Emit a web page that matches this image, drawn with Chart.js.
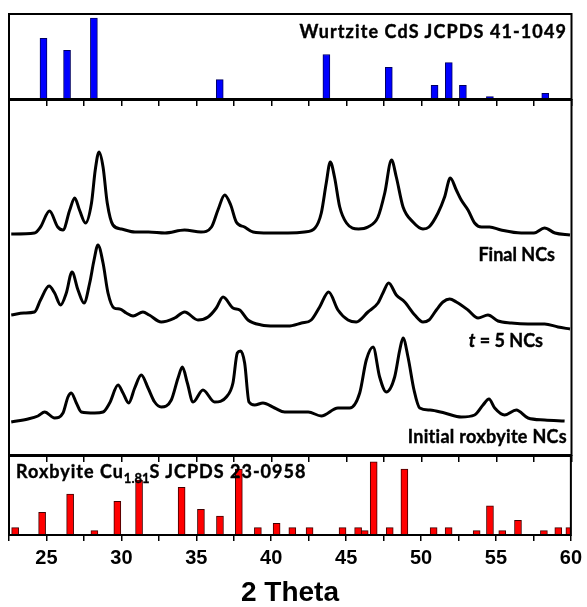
<!DOCTYPE html>
<html>
<head>
<meta charset="utf-8">
<script src="https://cdn.jsdelivr.net/npm/chart.js@4.4.1/dist/chart.umd.min.js"></script>
<style>
    body { margin: 0; background: #fff; }
    #wrap { position: relative; width: 587px; height: 607px; overflow: hidden; }
    canvas { position: absolute; left: 0; }
    .lbl { position: absolute; font-family: Lato, "Open Sans", sans-serif; font-weight: bold; font-size: 18px; line-height: 18px; color: #000; white-space: nowrap; -webkit-text-stroke: 0.4px #000; }
</style>
</head>
<body>
<div id="wrap">
    <canvas id="cds" width="587" height="110" style="top:0"></canvas>
    <canvas id="xrd" width="587" height="367" style="top:99px"></canvas>
    <canvas id="rox" width="587" height="152" style="top:455px"></canvas>
    <div class="lbl" style="right:20px; top:22px; letter-spacing:1.1px">Wurtzite CdS JCPDS 41-1049</div>
    <div class="lbl" style="right:32px; top:245px">Final NCs</div>
    <div class="lbl" style="right:44px; top:331px"><i>t</i> = 5 NCs</div>
    <div class="lbl" style="right:20px; top:427px; letter-spacing:0.3px">Initial roxbyite NCs</div>
    <div class="lbl" style="left:16px; top:462px; letter-spacing:1px">Roxbyite Cu<sub style="font-size:13px; vertical-align:-5px; letter-spacing:0">1.81</sub>S JCPDS 23-0958</div>
</div>
<script>
// Wurtzite CdS reference lines (2θ, relative intensity)
const cdsTheta = [24.8, 26.37, 28.16, 36.55, 43.66, 47.82, 50.87, 51.82, 52.76, 54.56, 58.25];
const cdsInt = [75, 60, 100, 24, 55, 39, 17, 45, 17, 3, 7];

// Roxbyite Cu1.81S reference lines
const roxTheta = [22.91, 24.71, 26.58, 28.2, 29.73, 31.18, 34.02, 35.31, 36.58, 37.84, 39.11, 40.36, 41.41, 42.56,
    44.76, 45.8, 46.24, 46.84, 47.91, 48.89, 50.84, 51.84, 53.71, 54.6, 55.42, 56.47, 58.2, 59.16, 59.9];
const roxInt = [10, 31, 56, 6, 46, 75, 65, 35, 26, 90, 10, 16, 10, 10,
    10, 10, 6, 100, 10, 90, 10, 10, 6, 40, 6, 20, 6, 10, 10];

// Measured patterns, [2θ, intensity a.u.] (stacked with offsets)
const finalNCs = [[22.65,221],[24.2,222],[24.6,228],[25.2,244],[25.75,228],[26.1,225],[26.55,245],[26.88,257],[27.2,245],
    [27.6,232],[28.0,252],[28.25,285],[28.5,303],[28.77,288],[29.05,252],[29.43,230],[30.0,226],[30.9,223],[31.8,223],
    [32.9,222],[34.2,225],[35.3,223],[36.0,228],[36.43,245],[36.88,260],[37.28,250],[37.65,233],[38.2,228],[38.77,223],
    [39.8,222],[41.1,222],[42.2,223],[42.9,227],[43.32,242],[43.65,272],[43.92,293],[44.2,278],[44.55,248],[45.0,232],
    [45.8,226],[46.43,228],[47.1,238],[47.55,262],[48.0,295],[48.32,278],[48.77,248],[49.43,233],[50.1,226],[50.5,228],
    [51.1,242],[51.54,258],[51.92,277],[52.32,265],[52.65,255],[53.1,245],[53.54,232],[54.0,228],[54.54,228],[55.3,225],
    [56.65,222],[57.5,222],[58.2,227],[58.9,222],[59.9,220]];
const t5NCs = [[22.65,140],[23.5,142],[24.2,143],[24.6,155],[25.17,169],[25.54,162],[25.94,150],[26.32,162],[26.7,183],
    [27.1,165],[27.5,152],[27.88,172],[28.17,195],[28.43,210],[28.77,192],[29.1,162],[29.5,147],[29.88,146],[30.32,142],
    [30.77,139],[31.43,143],[31.85,140],[32.65,133],[33.54,137],[34.21,143],[35.1,135],[35.77,138],[36.32,147],[36.77,158],
    [37.43,147],[37.88,145],[38.43,135],[39.32,130],[40.21,129],[41.1,129],[42.0,132],[42.65,135],[43.21,148],[43.81,163],
    [44.43,145],[45.1,135],[45.65,133],[46.43,143],[47.1,152],[47.43,162],[47.81,172],[48.32,160],[48.88,153],[49.55,140],
    [50.1,133],[50.5,135],[50.99,145],[51.43,153],[51.88,156],[52.32,153],[53.1,145],[53.77,137],[54.43,140],[55.1,134],
    [55.99,132],[57.1,131],[58.21,131],[59.1,128],[59.9,126]];
const initialNCs = [[22.65,33],[23.77,36],[24.43,39],[24.88,43],[25.54,37],[26.1,42],[26.43,58],[26.65,62],[26.99,52],
    [27.32,43],[28.21,42],[28.77,43],[29.21,52],[29.77,70],[30.1,62],[30.48,52],[30.88,67],[31.32,80],[31.77,67],[32.21,53],
    [32.65,48],[33.32,55],[33.77,77],[34.06,88],[34.39,72],[34.77,53],[35.43,65],[36.21,53],[36.99,58],[37.43,72],[37.72,102],
    [37.94,104],[38.21,92],[38.5,53],[38.88,50],[39.43,52],[40.21,47],[40.88,43],[41.79,43],[42.45,43],[43.32,39],[44.43,47],
    [45.21,47],[45.88,62],[46.32,95],[46.77,108],[47.21,78],[47.65,63],[48.21,78],[48.55,105],[48.77,117],[49.1,98],[49.5,65],
    [49.88,47],[50.57,45],[51.54,42],[52.65,38],[53.54,40],[54.1,50],[54.5,56],[54.88,47],[55.54,40],[56.32,45],[57.1,37],
    [58.21,35],[59.54,34]];

const xMin = 22.5;
const xMax = 60;

// box round each panel
const frame = {
    id: 'frame',
    afterDraw(chart) {
        const { ctx, chartArea: a } = chart;
        ctx.save();
        ctx.strokeStyle = '#000';
        ctx.lineWidth = 2;
        ctx.strokeRect(a.left, a.top, a.right - a.left, a.bottom - a.top);
        ctx.restore();
    }
};

const xAxis = (height, showLabels) => ({
    type: 'linear',
    offset: false,
    min: xMin,
    max: xMax,
    afterFit: (scale) => { scale.height = height; },
    border: { display: false },
    grid: { offset: false, drawOnChartArea: false, drawTicks: true, tickLength: showLabels ? 6 : 7, color: '#000', lineWidth: 1.5 },
    ticks: {
        display: showLabels,
        stepSize: 2.5,
        autoSkip: false,
        maxRotation: 0,
        padding: 5,
        color: '#000',
        font: { family: '"Liberation Sans", Arial, sans-serif', weight: 'bold', size: 20 },
        callback: (v) => (v % 5 === 0 ? v : '')
    },
    title: {
        display: showLabels,
        text: '2 Theta',
        color: '#000',
        padding: { top: 0, bottom: 0 },
        font: { family: '"Liberation Sans", Arial, sans-serif', weight: 'bold', size: 28, lineHeight: 1 }
    }
});

const baseOptions = (padTop, xHeight, showLabels, yMax) => ({
    responsive: false,
    animation: false,
    layout: { padding: { top: padTop, left: 9, right: 15.5, bottom: 0 } },
    plugins: { legend: { display: false }, tooltip: { enabled: false } },
    scales: {
        x: xAxis(xHeight, showLabels),
        y: { display: false, min: 0, max: yMax }
    }
});

const toPoints = (xs, ys) => xs.map((x, i) => ({ x: x, y: ys[i] }));
const pairs = (arr) => arr.map(([x, y]) => ({ x: x, y: y }));

new Chart(document.getElementById('cds'), {
    type: 'bar',
    data: {
        datasets: [{
            data: toPoints(cdsTheta, cdsInt),
            backgroundColor: '#0000ff',
            borderColor: '#000060',
            borderWidth: 1,
            barThickness: 7
        }]
    },
    options: baseOptions(14, 11, false, 105),
    plugins: [frame]
});

const line = (arr) => ({
    data: pairs(arr),
    borderColor: '#000',
    borderWidth: 3,
    pointRadius: 0,
    fill: false,
    cubicInterpolationMode: 'monotone'
});

new Chart(document.getElementById('xrd'), {
    type: 'line',
    data: {
        datasets: [line(finalNCs), line(t5NCs), line(initialNCs)]
    },
    options: baseOptions(1, 11, false, 355),
    plugins: [frame]
});

new Chart(document.getElementById('rox'), {
    type: 'bar',
    data: {
        datasets: [{
            data: toPoints(roxTheta, roxInt),
            backgroundColor: '#ff0000',
            borderColor: '#400000',
            borderWidth: 1,
            barThickness: 7
        }]
    },
    options: baseOptions(1, 72, true, 108),
    plugins: [frame]
});
</script>
</body>
</html>
